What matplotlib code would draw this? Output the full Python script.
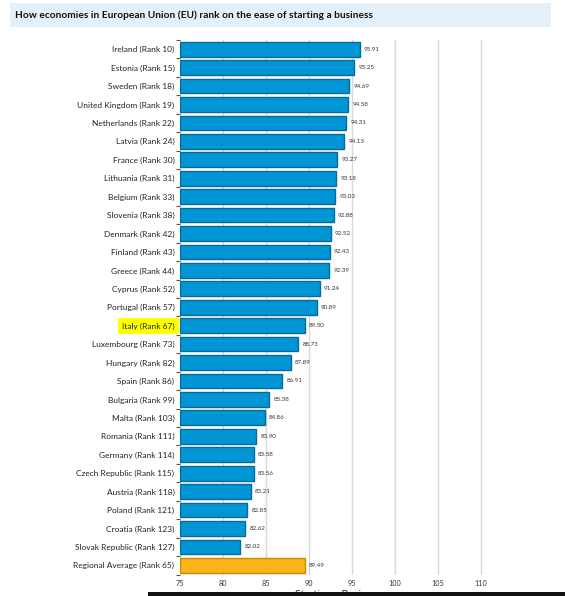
import matplotlib.pyplot as plt
import numpy as np
from matplotlib.patches import Rectangle

countries = ['Ireland (Rank 10)', 'Estonia (Rank 15)', 'Sweden (Rank 18)', 'United Kingdom (Rank 19)',
             'Netherlands (Rank 22)', 'Latvia (Rank 24)', 'France (Rank 30)', 'Lithuania (Rank 31)',
             'Belgium (Rank 33)', 'Slovenia (Rank 38)', 'Denmark (Rank 42)', 'Finland (Rank 43)',
             'Greece (Rank 44)', 'Cyprus (Rank 52)', 'Portugal (Rank 57)', 'Italy (Rank 67)',
             'Luxembourg (Rank 73)', 'Hungary (Rank 82)', 'Spain (Rank 86)', 'Bulgaria (Rank 99)',
             'Malta (Rank 103)', 'Romania (Rank 111)', 'Germany (Rank 114)', 'Czech Republic (Rank 115)',
             'Austria (Rank 118)', 'Poland (Rank 121)', 'Croatia (Rank 123)', 'Slovak Republic (Rank 127)',
             'Regional Average (Rank 65)']
scores = [95.91, 95.25, 94.69, 94.58, 94.31, 94.13, 93.27, 93.18, 93.03, 92.88, 92.52, 92.43,
          92.39, 91.24, 90.89, 89.50, 88.73, 87.89, 86.91, 85.38, 84.86, 83.90, 83.58, 83.56,
          83.21, 82.85, 82.62, 82.02, 89.49]
x_ticks = [75, 80, 85, 90, 95, 100, 105, 110]
highlight = 'Italy (Rank 67)'
title = 'How economies in European Union (EU) rank on the ease of starting a business'

plt.rcParams['font.family'] = ['Lato', 'DejaVu Sans']

fig = plt.figure(figsize=(5.65, 5.96), dpi=100)
ax = fig.add_axes([0.3186, 0.036, 0.927 - 0.3186, 0.933 - 0.036])

# title banner
fig.patches.append(Rectangle((10 / 565, 1 - 27 / 596), 541 / 565, 24 / 596,
                             transform=fig.transFigure, facecolor='#e3f0fa', edgecolor='none'))
fig.text(15 / 565, 1 - 15 / 596, title, fontsize=7.3, fontweight='bold', va='center', color='#111111')

y = np.arange(len(countries))
colors = ['#0096d6'] * (len(countries) - 1) + ['#fbb518']
edges = ['#0a6a98'] * (len(countries) - 1) + ['#c88a00']
ax.barh(y, [s - 75 for s in scores], left=75, height=0.8, color=colors, edgecolor=edges, linewidth=1, zorder=3)

for yi, s in zip(y, scores):
    ax.text(s + 0.5, yi, f'{s:.2f}', fontsize=4.5, va='center', ha='left', color='#333333')

ax.set_xlim(75, 115)
ax.set_ylim(len(countries) - 0.5, -0.5)
ax.set_xticks(x_ticks)
ax.set_xticklabels([str(t) for t in x_ticks], fontsize=5.2, color='#333333')
ax.set_yticks(y)
ax.set_yticklabels(countries, fontsize=6.0, color='#222222')
ax.set_yticks(np.arange(len(countries) + 1) - 0.5, minor=True)
ax.tick_params(axis='y', which='major', length=0, pad=4)
ax.tick_params(axis='y', which='minor', length=3, color='#555555', width=0.8)
ax.tick_params(axis='x', length=0, pad=4)
ax.grid(axis='x', color='#d8d8d8', linewidth=1, zorder=0)
for sp in ax.spines.values():
    sp.set_visible(False)

for lbl in ax.get_yticklabels():
    if lbl.get_text() == highlight:
        lbl.set_bbox(dict(facecolor='#ffff00', edgecolor='none', pad=3))

ax.set_xlabel('Starting a Business score', fontsize=7.5, labelpad=2, color='#222222')

# dark strip at bottom edge of screenshot
fig.patches.append(Rectangle((148 / 565, 0), 1, 4 / 596, transform=fig.transFigure,
                             facecolor='#111111', edgecolor='none', zorder=10))

fig.savefig('out.png', dpi=100)
